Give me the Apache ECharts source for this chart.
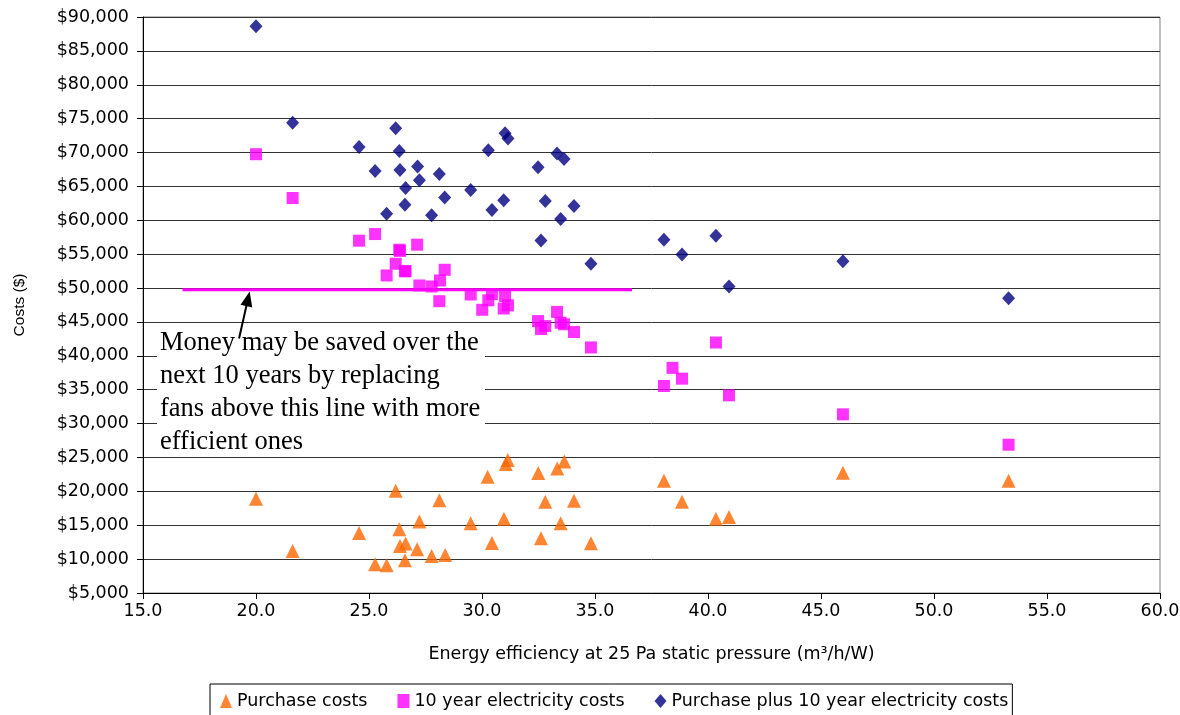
<!DOCTYPE html>
<html>
<head>
<meta charset="utf-8">
<script src="https://cdn.jsdelivr.net/npm/echarts@6/dist/echarts.min.js"></script>
<style>
  html, body { margin: 0; padding: 0; background: #fff; }
  #chart { width: 1180px; height: 715px; }
</style>
</head>
<body>
<div id="chart"></div>
<script>
// ---- Axis ranges ----
const X_MIN = 15, X_MAX = 60, X_STEP = 5;
const Y_MIN = 5000, Y_MAX = 90000, Y_STEP = 5000;

// ---- Series names ----
const seriesNames = ['Purchase costs', '10 year electricity costs', 'Purchase plus 10 year electricity costs'];

// ---- Data: [energy efficiency (m³/h/W), cost ($)] ----
const purchaseCosts = [
  [20.0,18890],[21.62,11210],[24.56,13870],[25.27,9240],[25.78,9090],[26.18,20080],[26.34,14420],
  [26.37,11950],[26.59,9830],[26.62,12290],[27.13,11460],[27.23,15540],[27.77,10470],[28.11,18700],
  [28.37,10610],[29.5,15300],[30.25,22150],[30.44,12390],[30.97,15940],[31.05,24020],[31.14,24620],
  [32.49,22690],[32.61,13080],[32.8,18450],[33.33,23370],[33.64,24410],[33.48,15300],[34.07,18600],
  [34.82,12350],[38.05,21550],[38.85,18450],[40.35,15940],[40.93,16230],[45.97,22740],[53.3,21550]
];
const electricityCosts = [
  [20.0,69750],[21.62,63290],[24.56,56990],[25.27,57970],[25.78,51860],[26.18,53590],[26.34,55660],
  [26.37,55480],[26.59,52480],[26.62,52500],[27.13,56400],[27.23,50380],[27.77,50230],[28.11,48060],
  [28.35,52700],[28.14,51120],[29.5,49050],[30.01,46790],[30.28,48190],[30.44,49120],[30.96,46980],
  [31.02,48830],[31.15,47450],[32.48,45130],[32.61,43950],[32.8,44390],[33.32,46480],[33.63,44650],
  [33.48,44880],[34.07,43510],[34.82,41240],[38.05,35550],[38.43,38220],[38.85,36630],[40.35,41960],
  [40.93,34170],[45.97,31360],[53.3,26880]
];
const totalCosts = [
  [20.0,88650],[21.62,74400],[24.56,70800],[25.27,67270],[25.78,60980],[26.18,73590],[26.34,70240],
  [26.37,67430],[26.59,62310],[26.62,64770],[27.15,67930],[27.23,65900],[27.77,60730],[28.11,66840],
  [28.35,63350],[29.5,64470],[30.28,70340],[30.44,61510],[30.96,62950],[31.02,72850],[31.15,72070],
  [32.48,67830],[32.61,57030],[32.8,62840],[33.32,69850],[33.63,69050],[33.48,60180],[34.07,62110],
  [34.82,53590],[38.05,57140],[38.85,54960],[40.35,57730],[40.93,50230],[45.97,53970],[53.3,48500]
];
// Threshold line
const thresholdLine = [[16.75,49750],[36.64,49750]];

// Annotation
const annotationLines = [
  'Money may be saved over the',
  'next 10 years by replacing',
  'fans above this line with more',
  'efficient ones'
];
const arrowTail = [19.25, 42550];
const arrowTip = [19.72, 49500];
const boxTopLeft = [15.62, 44800];
const boxBottomRight = [30.13, 25600];

const SANS = '"DejaVu Sans", Verdana, sans-serif';
const FS = 17.5;

const chart = echarts.init(document.getElementById('chart'), null, { renderer: 'canvas' });

const option = {
  animation: false,
  backgroundColor: '#fff',
  grid: { left: 143, right: 20, top: 17, bottom: 122, show: true, borderColor: '#808080', borderWidth: 1,
    backgroundColor: '#fff', containLabel: false, outerBoundsMode: 'none' },
  xAxis: {
    type: 'value', min: X_MIN, max: X_MAX, interval: X_STEP,
    name: 'Energy efficiency at 25 Pa static pressure (m³/h/W)',
    nameLocation: 'middle', nameGap: 52,
    nameTextStyle: { fontFamily: SANS, fontSize: FS, color: '#000' },
    axisLine: { lineStyle: { color: '#000', width: 1 } },
    axisTick: { inside: false, length: 6, lineStyle: { color: '#000' } },
    axisLabel: { margin: 9, fontFamily: SANS, fontSize: FS, color: '#000', formatter: v => v.toFixed(1) },
    splitLine: { show: false }
  },
  yAxis: {
    type: 'value', min: Y_MIN, max: Y_MAX, interval: Y_STEP,
    name: 'Costs ($)', nameLocation: 'middle', nameGap: 115, nameRotate: 90,
    nameTextStyle: { fontFamily: '"Liberation Sans", Arial, sans-serif', fontSize: 15.5, color: '#000' },
    axisLine: { lineStyle: { color: '#000', width: 1 } },
    axisTick: { inside: false, length: 6, lineStyle: { color: '#000' } },
    axisLabel: { margin: 14, fontFamily: SANS, fontSize: FS, color: '#000',
      formatter: v => '$' + v.toLocaleString('en-US') },
    splitLine: { show: true, lineStyle: { color: '#333', width: 1 } }
  },
  legend: {
    data: [
      { name: seriesNames[0], icon: 'triangle' },
      { name: seriesNames[1], icon: 'rect' },
      { name: seriesNames[2], icon: 'diamond' }
    ],
    left: 210, top: 684, orient: 'horizontal',
    itemWidth: 12, itemHeight: 14, itemGap: 30,
    padding: [8, 4, 10, 10],
    borderColor: '#000', borderWidth: 1, backgroundColor: '#fff',
    textStyle: { fontFamily: SANS, fontSize: FS, color: '#000' }
  },
  series: [
    {
      name: 'threshold', type: 'line', data: thresholdLine, symbol: 'none',
      lineStyle: { color: '#FF00FF', width: 3 }, itemStyle: { color: '#FF00FF' }, z: 2, silent: true
    },
    {
      name: seriesNames[2], type: 'scatter', data: totalCosts, symbol: 'diamond', symbolSize: [13, 14],
      itemStyle: { color: '#000080' }, z: 3
    },
    {
      name: seriesNames[1], type: 'scatter', data: electricityCosts, symbol: 'rect', symbolSize: 12,
      itemStyle: { color: '#FF00FF' }, z: 3
    },
    {
      name: seriesNames[0], type: 'scatter', data: purchaseCosts, symbol: 'triangle', symbolSize: [14, 14],
      itemStyle: { color: '#FF6600' }, z: 3
    }
  ]
};
chart.setOption(option);

// ---- Annotation (positioned from data coordinates) ----
const toPx = p => chart.convertToPixel({ gridIndex: 0 }, p);
const b0 = toPx(boxTopLeft), b1 = toPx(boxBottomRight);
const t = toPx(arrowTail), h = toPx(arrowTip);
const dx = h[0] - t[0], dy = h[1] - t[1];
const len = Math.sqrt(dx * dx + dy * dy);
const ux = dx / len, uy = dy / len;
const headLen = 15, headHalf = 6;
const baseX = h[0] - ux * headLen, baseY = h[1] - uy * headLen;
const px = -uy, py = ux;

chart.setOption({
  graphic: [
    { type: 'rect', shape: { x: b0[0], y: b0[1], width: b1[0] - b0[0], height: b1[1] - b0[1] },
      style: { fill: '#fff' }, z: 50, silent: true },
    { type: 'text', x: b0[0] + 3, y: b0[1] + 3.5, z: 51, silent: true,
      style: { text: annotationLines.join('\n'), font: '26.5px "Liberation Serif", "Times New Roman", serif',
        fill: '#000', lineHeight: 33, textVerticalAlign: 'top' } },
    { type: 'line', shape: { x1: t[0], y1: t[1], x2: baseX, y2: baseY },
      style: { stroke: '#000', lineWidth: 2 }, z: 52, silent: true },
    { type: 'polygon', shape: { points: [
        [h[0], h[1]],
        [baseX + px * headHalf, baseY + py * headHalf],
        [baseX - px * headHalf, baseY - py * headHalf]
      ] }, style: { fill: '#000' }, z: 52, silent: true }
  ]
});
</script>
</body>
</html>
